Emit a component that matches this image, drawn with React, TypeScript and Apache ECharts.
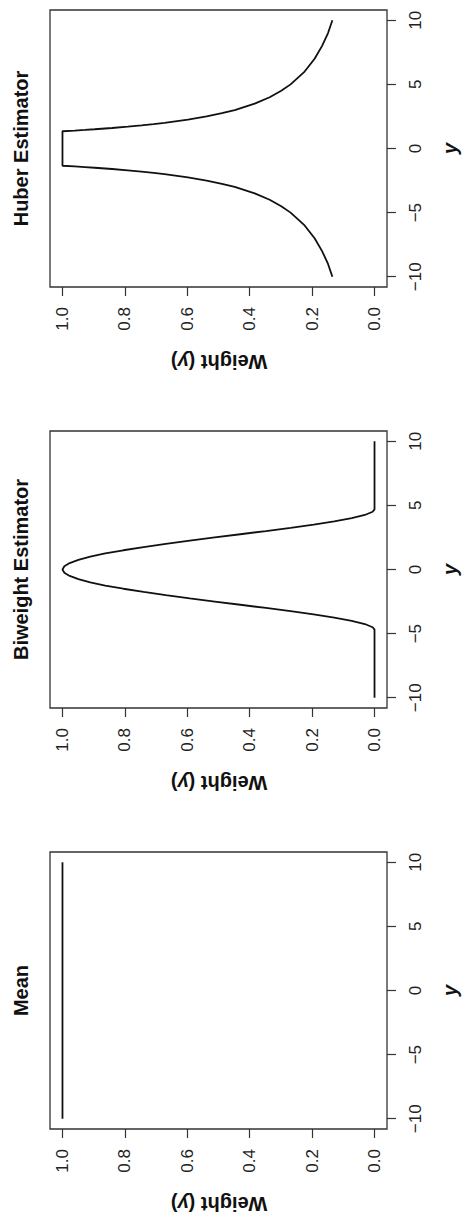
import React, { useEffect, useRef } from "react";
import * as echarts from "echarts";

// ---- data ----
const panelTitles = ["Huber Estimator", "Biweight Estimator", "Mean"];
const yTickValues = [-10, -5, 0, 5, 10];
const weightTickValues = [0, 0.2, 0.4, 0.6, 0.8, 1.0];

const huberY = [
  -10, -9, -8, -7, -6, -5, -4.5, -4, -3.5, -3, -2.75, -2.5, -2.25, -2, -1.9, -1.8, -1.7, -1.6, -1.5, -1.45, -1.4, -1.345,
  0,
  1.345, 1.4, 1.45, 1.5, 1.6, 1.7, 1.8, 1.9, 2, 2.25, 2.5, 2.75, 3, 3.5, 4, 4.5, 5, 6, 7, 8, 9, 10,
];
const huberW = [
  0.135, 0.149, 0.168, 0.192, 0.224, 0.269, 0.299, 0.336, 0.384, 0.448, 0.489, 0.538, 0.598, 0.673, 0.708, 0.747, 0.791, 0.841, 0.897, 0.928, 0.961, 1.0,
  1.0,
  1.0, 0.961, 0.928, 0.897, 0.841, 0.791, 0.747, 0.708, 0.673, 0.598, 0.538, 0.489, 0.448, 0.384, 0.336, 0.299, 0.269, 0.224, 0.192, 0.168, 0.149, 0.135,
];

const biweightY = [
  -10, -8, -6, -4.685, -4.5, -4.25, -4, -3.75, -3.5, -3.25, -3, -2.75, -2.5, -2.25, -2, -1.75, -1.5, -1.25, -1, -0.75, -0.5, -0.25,
  0,
  0.25, 0.5, 0.75, 1, 1.25, 1.5, 1.75, 2, 2.25, 2.5, 2.75, 3, 3.25, 3.5, 3.75, 4, 4.25, 4.5, 4.685, 6, 8, 10,
];
const biweightW = [
  0, 0, 0, 0, 0.006, 0.031, 0.073, 0.129, 0.195, 0.269, 0.348, 0.43, 0.512, 0.592, 0.669, 0.74, 0.805, 0.863, 0.911, 0.949, 0.977, 0.994,
  1.0,
  0.994, 0.977, 0.949, 0.911, 0.863, 0.805, 0.74, 0.669, 0.592, 0.512, 0.43, 0.348, 0.269, 0.195, 0.129, 0.073, 0.031, 0.006, 0, 0, 0, 0,
];

const meanY = [-10, 10];
const meanW = [1.0, 1.0];

const seriesY = [huberY, biweightY, meanY];
const seriesW = [huberW, biweightW, meanW];

// ---- layout ----
const FONT = "'Liberation Sans', Arial, Helvetica, sans-serif";
const GRID_LEFT = 50;
const GRID_WIDTH = 337;
const GRID_HEIGHT = 277;
const GRID_TOPS = [10, 431, 852];
const AXIS_COLOR = "#333";

const fmtMinus = (v: number) => {
  const s = Number.isInteger(v) ? String(Math.abs(v)) : Math.abs(v).toFixed(1);
  return v < 0 ? "\u2212" + s : s;
};

export default function App() {
  const ref = useRef<HTMLDivElement>(null);

  useEffect(() => {
    if (!ref.current) return;
    const chart = echarts.init(ref.current, null, { renderer: "svg" });

    const grid = GRID_TOPS.map((top) => ({
      left: GRID_LEFT,
      top,
      width: GRID_WIDTH,
      height: GRID_HEIGHT,
      show: true,
      borderColor: AXIS_COLOR,
      borderWidth: 1.3,
      backgroundColor: "transparent",
      containLabel: false,
    }));

    const xAxis = GRID_TOPS.map((_, i) => ({
      type: "value",
      gridIndex: i,
      position: "bottom",
      inverse: true,
      min: -0.04,
      max: 1.04,
      axisLine: { show: false, onZero: false },
      splitLine: { show: false },
      axisTick: {
        show: true,
        inside: false,
        length: 9,
        customValues: weightTickValues,
        lineStyle: { color: AXIS_COLOR, width: 1.2 },
      },
      axisLabel: {
        show: true,
        rotate: 90,
        margin: 20,
        customValues: weightTickValues,
        formatter: (v: number) => v.toFixed(1),
        fontFamily: FONT,
        fontSize: 17,
        color: "#222",
      },
    }));

    const yAxis = GRID_TOPS.map((_, i) => ({
      type: "value",
      gridIndex: i,
      position: "right",
      min: -10.8,
      max: 10.8,
      axisLine: { show: false, onZero: false },
      splitLine: { show: false },
      axisTick: {
        show: true,
        inside: false,
        length: 9,
        customValues: yTickValues,
        lineStyle: { color: AXIS_COLOR, width: 1.2 },
      },
      axisLabel: {
        show: true,
        rotate: 90,
        margin: 20,
        customValues: yTickValues,
        formatter: (v: number) => fmtMinus(v),
        fontFamily: FONT,
        fontSize: 17,
        color: "#222",
      },
    }));

    const series = GRID_TOPS.map((_, i) => ({
      type: "line",
      name: panelTitles[i],
      xAxisIndex: i,
      yAxisIndex: i,
      showSymbol: false,
      symbol: "none",
      smooth: false,
      lineStyle: { color: "#111", width: 1.8 },
      data: seriesY[i].map((y, k) => [seriesW[i][k], y]),
    }));

    const graphic: any[] = [];
    GRID_TOPS.forEach((top, i) => {
      const cy = top + GRID_HEIGHT / 2;
      graphic.push({
        type: "text",
        x: 21,
        y: cy,
        rotation: Math.PI / 2,
        style: {
          text: panelTitles[i],
          fontFamily: FONT,
          fontWeight: "bold",
          fontSize: 20,
          fill: "#111",
          textAlign: "center",
          textVerticalAlign: "middle",
        },
      });
      graphic.push({
        type: "text",
        x: GRID_LEFT + GRID_WIDTH / 2 + 0.5,
        y: top + GRID_HEIGHT + 75,
        rotation: Math.PI,
        style: {
          text: "{a|Weight (}{b|y}{a|)}",
          textAlign: "center",
          textVerticalAlign: "middle",
          rich: {
            a: { fontFamily: FONT, fontWeight: "bold", fontSize: 20, fill: "#111" },
            b: { fontFamily: FONT, fontWeight: "bold", fontStyle: "italic", fontSize: 20, fill: "#111" },
          },
        },
      });
      graphic.push({
        type: "text",
        x: 450,
        y: cy,
        rotation: Math.PI / 2,
        style: {
          text: "y",
          fontFamily: FONT,
          fontWeight: "bold",
          fontStyle: "italic",
          fontSize: 20,
          fill: "#111",
          textAlign: "center",
          textVerticalAlign: "middle",
        },
      });
    });

    chart.setOption({
      animation: false,
      backgroundColor: "#ffffff",
      grid,
      xAxis,
      yAxis,
      series,
      graphic,
    } as any);

    return () => chart.dispose();
  }, []);

  return (
    <div
      ref={ref}
      style={{ position: "absolute", left: 0, top: 0, width: 462, height: 1217 }}
    />
  );
}
